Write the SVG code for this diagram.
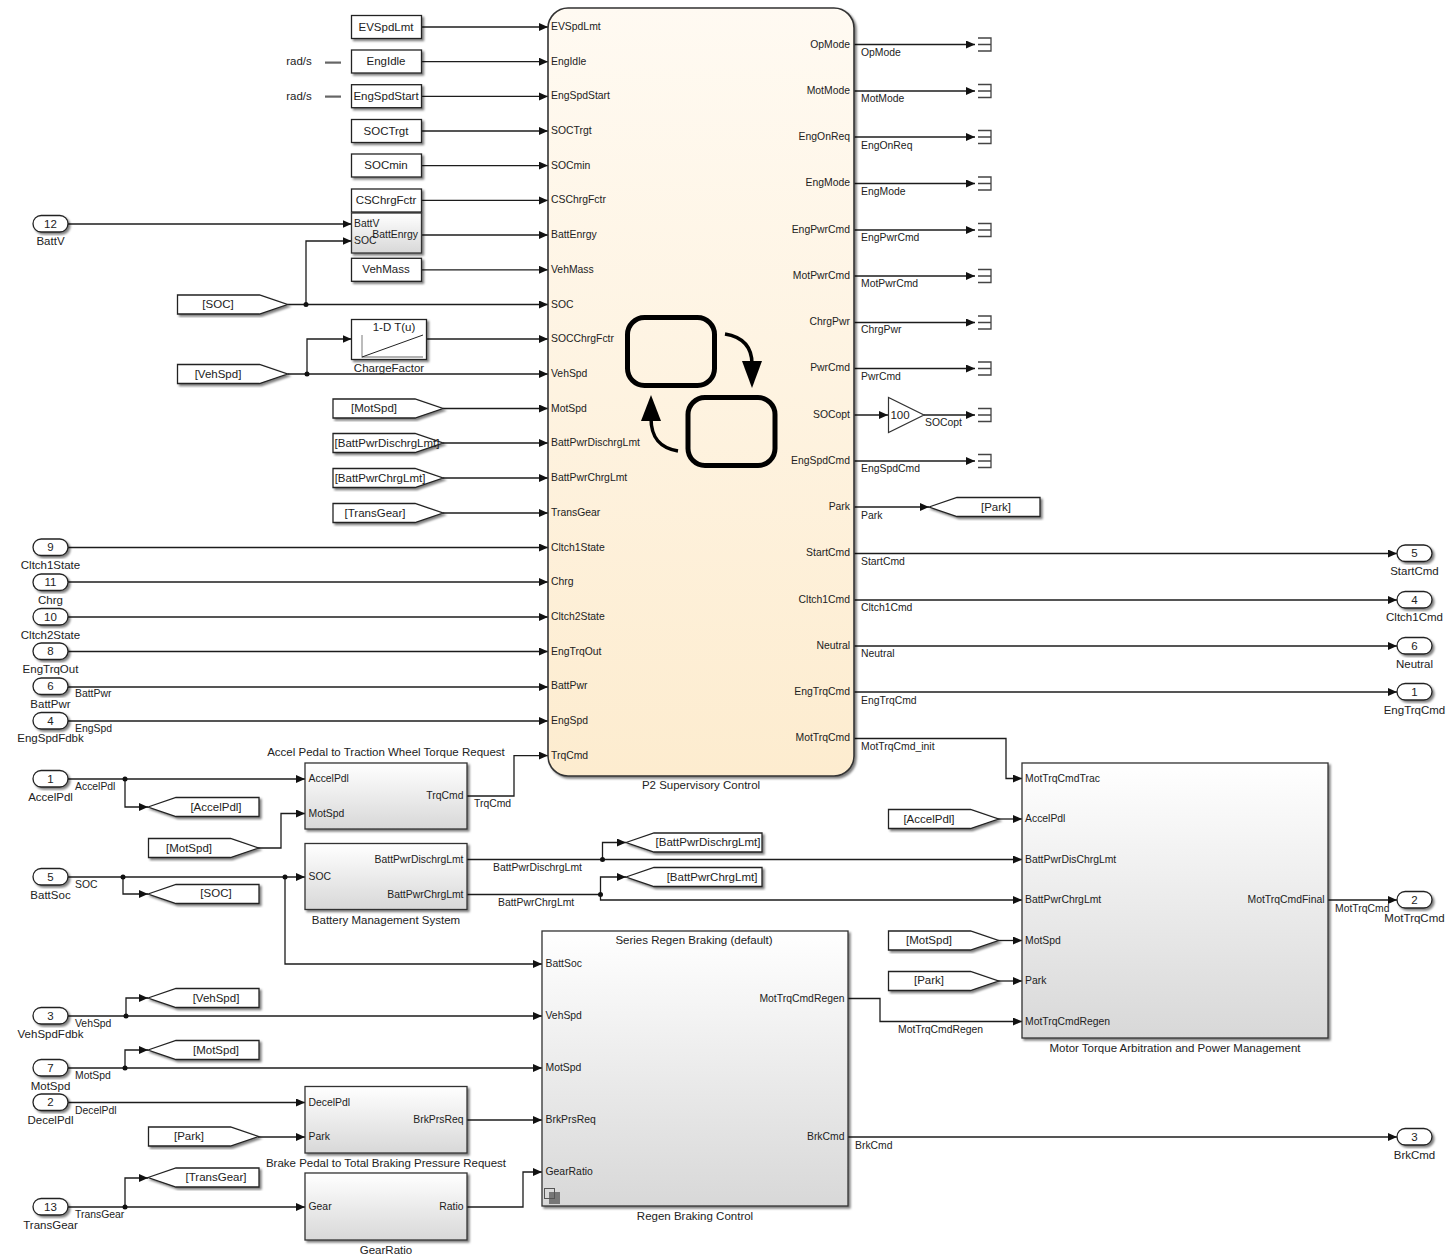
<svg xmlns="http://www.w3.org/2000/svg" width="1455" height="1254" viewBox="0 0 1455 1254">
<style>
text{font-family:"Liberation Sans",Arial,sans-serif;font-size:10.4px;fill:#222;dominant-baseline:central;transform:translateY(-0.5px)}
.n{font-size:11.5px;text-anchor:middle}
.r{text-anchor:end}
.l{fill:none;stroke:#1c1c1c;stroke-width:1.3;marker-end:url(#a)}
.p{fill:none;stroke:#1c1c1c;stroke-width:1.3}
.b{fill:#fff;stroke:#222;stroke-width:1.3;filter:url(#s)}
.g{fill:url(#g);stroke:#333;stroke-width:1.3;filter:url(#s)}
.t{fill:none;stroke:#444;stroke-width:1.3}
.d{fill:#111}
.sf{fill:none;stroke:#000;stroke-width:5}
.sa{fill:none;stroke:#000;stroke-width:3.5}
</style>
<defs>
<marker id="a" markerUnits="userSpaceOnUse" markerWidth="10" markerHeight="9" refX="9" refY="4" orient="auto"><path d="M0,0L9,4L0,8z" fill="#111"/></marker>
<linearGradient id="g" x1="0" y1="0" x2="0" y2="1"><stop offset="0" stop-color="#fff"/><stop offset="1" stop-color="#d8d8d8"/></linearGradient>
<linearGradient id="c" x1="0" y1="0" x2="0" y2="1"><stop offset="0" stop-color="#fffaf2"/><stop offset="1" stop-color="#fdeccf"/></linearGradient>
<filter id="s" x="-10%" y="-10%" width="125%" height="130%"><feDropShadow dx="2" dy="2" stdDeviation="1.2" flood-color="#000" flood-opacity="0.5"/></filter>
<path id="from" d="M0,0H82L110,9.5L82,19H0z"/>
<path id="goto" d="M0,9.5L28,0H111V19H28z"/>
<path id="gotoW" d="M0,9.5L28,0H136V19H28z"/>
<rect id="port" width="35" height="16.5" rx="8.2"/>
<path id="term" d="M3,-6.5H16V6.5H3M3,0H16"/>
</defs>

<g id="connectors">
<path class="l" d="M421.5,27H548"/>
<path class="l" d="M421.5,61.7H548"/>
<path class="l" d="M421.5,96.4H548"/>
<path class="l" d="M421.5,131H548"/>
<path class="l" d="M421.5,165.6H548"/>
<path class="l" d="M421.5,200.4H548"/>
<path class="l" d="M421.5,235H548"/>
<path class="l" d="M421.5,269.8H548"/>
<path class="l" d="M68,224H351.5"/>
<path class="l" d="M306,304.5V241H351.5"/>
<path class="l" d="M287.5,304.5H548"/>
<path class="l" d="M307,374V339H351.5"/>
<path class="l" d="M426,339H548"/>
<path class="l" d="M287.5,374H548"/>
<path class="l" d="M443,408.5H548"/>
<path class="l" d="M443,443H548"/>
<path class="l" d="M443,478H548"/>
<path class="l" d="M443,513H548"/>
<path class="l" d="M68,547.5H548"/>
<path class="l" d="M68,582H548"/>
<path class="l" d="M68,617H548"/>
<path class="l" d="M68,651.5H548"/>
<path class="l" d="M68,687H548"/>
<path class="l" d="M68,721H548"/>
<path class="l" d="M467,796H514V755.6H548"/>
<path class="l" d="M854,44.5H975"/>
<path class="l" d="M854,91H975"/>
<path class="l" d="M854,137H975"/>
<path class="l" d="M854,183.5H975"/>
<path class="l" d="M854,230H975"/>
<path class="l" d="M854,276H975"/>
<path class="l" d="M854,322.5H975"/>
<path class="l" d="M854,368.5H975"/>
<path class="l" d="M854,415H888"/>
<path class="l" d="M924,415H975"/>
<path class="l" d="M854,461H975"/>
<path class="l" d="M854,507H929"/>
<path class="l" d="M854,553.5H1397"/>
<path class="l" d="M854,600H1397"/>
<path class="l" d="M854,646H1397"/>
<path class="l" d="M854,692H1397"/>
<path class="l" d="M854,738.5H1006V778.5H1022"/>
<path class="l" d="M68,779H305"/>
<path class="l" d="M125,779V807H148"/>
<path class="l" d="M258,848H281V813.5H305"/>
<path class="l" d="M68,877H305"/>
<path class="l" d="M123,877V894H148"/>
<path class="l" d="M285,877V964H542"/>
<path class="l" d="M467,859.5H1022"/>
<path class="l" d="M602.5,859.5V842.5H626"/>
<path class="p" d="M467,894.5H600.5"/>
<path class="l" d="M600.5,894.5V877H626"/>
<path class="l" d="M600.5,894.5V900H1022"/>
<path class="l" d="M998,819H1022"/>
<path class="l" d="M998,940.5H1022"/>
<path class="l" d="M998,981H1022"/>
<path class="l" d="M1328,900H1397"/>
<path class="l" d="M848,998.5H880V1021.5H1022"/>
<path class="l" d="M848,1137H1397"/>
<path class="l" d="M68,1016H542"/>
<path class="l" d="M126,1016V998H148"/>
<path class="l" d="M68,1068H542"/>
<path class="l" d="M125,1068V1050H148"/>
<path class="l" d="M68,1102.5H305"/>
<path class="l" d="M258,1137H305"/>
<path class="l" d="M467,1120H542"/>
<path class="l" d="M68,1207H305"/>
<path class="l" d="M125,1207V1178H148"/>
<path class="l" d="M467,1207H523V1172H542"/>
<circle class="d" cx="306" cy="304.5" r="2.5"/>
<circle class="d" cx="307" cy="374" r="2.5"/>
<circle class="d" cx="125" cy="779" r="2.5"/>
<circle class="d" cx="123" cy="877" r="2.5"/>
<circle class="d" cx="285" cy="877" r="2.5"/>
<circle class="d" cx="602.5" cy="859.5" r="2.5"/>
<circle class="d" cx="600.5" cy="894.5" r="2.5"/>
<circle class="d" cx="126" cy="1016" r="2.5"/>
<circle class="d" cx="125" cy="1068" r="2.5"/>
<circle class="d" cx="125" cy="1207" r="2.5"/>
<text x="75" y="694">BattPwr</text>
<text x="75" y="729">EngSpd</text>
<text x="75" y="787">AccelPdl</text>
<text x="75" y="885">SOC</text>
<text x="75" y="1024">VehSpd</text>
<text x="75" y="1076">MotSpd</text>
<text x="75" y="1111">DecelPdl</text>
<text x="75" y="1215">TransGear</text>
<text x="474" y="804">TrqCmd</text>
<text x="493" y="868">BattPwrDischrgLmt</text>
<text x="498" y="903">BattPwrChrgLmt</text>
<text x="861" y="52.5">OpMode</text>
<text x="861" y="99">MotMode</text>
<text x="861" y="145.5">EngOnReq</text>
<text x="861" y="191.5">EngMode</text>
<text x="861" y="238">EngPwrCmd</text>
<text x="861" y="284">MotPwrCmd</text>
<text x="861" y="330">ChrgPwr</text>
<text x="861" y="376.5">PwrCmd</text>
<text x="925" y="423">SOCopt</text>
<text x="861" y="469">EngSpdCmd</text>
<text x="861" y="515.5">Park</text>
<text x="861" y="561.5">StartCmd</text>
<text x="861" y="608">Cltch1Cmd</text>
<text x="861" y="654">Neutral</text>
<text x="861" y="700.5">EngTrqCmd</text>
<text x="861" y="747">MotTrqCmd_init</text>
<text x="1335" y="909">MotTrqCmd</text>
<text x="898" y="1030">MotTrqCmdRegen</text>
<text x="855" y="1146">BrkCmd</text>
</g>

<g id="chart">
<rect x="548" y="8" width="306" height="768" rx="20" fill="url(#c)" stroke="#333" stroke-width="1.6" filter="url(#s)"/>
<rect class="sf" x="627.5" y="317.5" width="87" height="68" rx="17"/>
<rect class="sf" x="688" y="397.5" width="87" height="68" rx="17"/>
<path class="sa" d="M725,334C743,337 752,347 752,364"/>
<path d="M742,361H762L752,388z" fill="#000"/>
<path class="sa" d="M678,451C660,448 651,438 651,418"/>
<path d="M641,421H661L651,395z" fill="#000"/>
<text x="551" y="27">EVSpdLmt</text>
<text x="551" y="61.7">EngIdle</text>
<text x="551" y="96.4">EngSpdStart</text>
<text x="551" y="131">SOCTrgt</text>
<text x="551" y="165.6">SOCmin</text>
<text x="551" y="200.4">CSChrgFctr</text>
<text x="551" y="235">BattEnrgy</text>
<text x="551" y="269.8">VehMass</text>
<text x="551" y="304.5">SOC</text>
<text x="551" y="339">SOCChrgFctr</text>
<text x="551" y="374">VehSpd</text>
<text x="551" y="408.5">MotSpd</text>
<text x="551" y="443">BattPwrDischrgLmt</text>
<text x="551" y="478">BattPwrChrgLmt</text>
<text x="551" y="513">TransGear</text>
<text x="551" y="547.5">Cltch1State</text>
<text x="551" y="582">Chrg</text>
<text x="551" y="617">Cltch2State</text>
<text x="551" y="651.5">EngTrqOut</text>
<text x="551" y="686">BattPwr</text>
<text x="551" y="721">EngSpd</text>
<text x="551" y="755.6">TrqCmd</text>
<text class="r" x="850" y="44.5">OpMode</text>
<text class="r" x="850" y="90.5">MotMode</text>
<text class="r" x="850" y="137">EngOnReq</text>
<text class="r" x="850" y="183">EngMode</text>
<text class="r" x="850" y="229.5">EngPwrCmd</text>
<text class="r" x="850" y="275.5">MotPwrCmd</text>
<text class="r" x="850" y="322">ChrgPwr</text>
<text class="r" x="850" y="368">PwrCmd</text>
<text class="r" x="850" y="414.5">SOCopt</text>
<text class="r" x="850" y="460.5">EngSpdCmd</text>
<text class="r" x="850" y="507">Park</text>
<text class="r" x="850" y="553">StartCmd</text>
<text class="r" x="850" y="599.5">Cltch1Cmd</text>
<text class="r" x="850" y="645.5">Neutral</text>
<text class="r" x="850" y="692">EngTrqCmd</text>
<text class="r" x="850" y="738">MotTrqCmd</text>
<text class="n" x="701" y="785.5">P2 Supervisory Control</text>
</g>

<g id="constants">
<g id="c1"><rect class="b" x="351.5" y="15.5" width="70" height="23"/><text class="n" x="386" y="27">EVSpdLmt</text></g>
<g id="c2"><rect class="b" x="351.5" y="50" width="70" height="23"/><text class="n" x="386" y="61.7">EngIdle</text></g>
<g id="c3"><rect class="b" x="351.5" y="84.7" width="70" height="23"/><text class="n" x="386" y="96.4">EngSpdStart</text></g>
<g id="c4"><rect class="b" x="351.5" y="119.5" width="70" height="23"/><text class="n" x="386" y="131">SOCTrgt</text></g>
<g id="c5"><rect class="b" x="351.5" y="154" width="70" height="23"/><text class="n" x="386" y="165.6">SOCmin</text></g>
<g id="c6"><rect class="b" x="351.5" y="189" width="70" height="23"/><text class="n" x="386" y="200.4">CSChrgFctr</text></g>
<g id="c7"><rect class="b" x="351.5" y="258.3" width="70" height="23"/><text class="n" x="386" y="269.8">VehMass</text></g>
<text class="n" x="299" y="61">rad/s</text>
<rect x="325" y="61.5" width="16" height="2.2" fill="#666"/>
<text class="n" x="299" y="96">rad/s</text>
<rect x="325" y="95.5" width="16" height="2.2" fill="#666"/>
</g>

<g id="battEnrgy"><rect class="g" x="351.5" y="213" width="70" height="40"/><text x="354" y="224">BattV</text><text x="354" y="241">SOC</text><text class="r" x="418" y="235">BattEnrgy</text></g>

<g id="chargeFactor"><rect class="b" x="351.5" y="319.5" width="75" height="40"/>
<path d="M362,335V357H423" fill="none" stroke="#999" stroke-width="1.3"/><path d="M362,357L423,335" stroke="#222" fill="none"/>
<text class="n" x="394" y="327.5">1-D T(u)</text><text class="n" x="389" y="368.5">ChargeFactor</text></g>

<g id="froms">
<g id="f1"><use class="b" href="#from" x="177.5" y="295"/><text class="n" x="218" y="304.5">[SOC]</text></g>
<g id="f2"><use class="b" href="#from" x="177.5" y="364.5"/><text class="n" x="218" y="374">[VehSpd]</text></g>
<g id="f3"><use class="b" href="#from" x="333" y="399"/><text class="n" x="374" y="408.5">[MotSpd]</text></g>
<g id="f4"><use class="b" href="#from" x="333" y="433.5"/><text class="n" x="387" y="443">[BattPwrDischrgLmt]</text></g>
<g id="f5"><use class="b" href="#from" x="333" y="468.5"/><text class="n" x="380" y="478">[BattPwrChrgLmt]</text></g>
<g id="f6"><use class="b" href="#from" x="333" y="503.5"/><text class="n" x="375" y="513">[TransGear]</text></g>
<g id="f7"><use class="b" href="#from" x="148.5" y="838.5"/><text class="n" x="189" y="848">[MotSpd]</text></g>
<g id="f8"><use class="b" href="#from" x="148.5" y="1127"/><text class="n" x="189" y="1136.5">[Park]</text></g>
<g id="f9"><use class="b" href="#from" x="888.5" y="809.5"/><text class="n" x="929" y="819">[AccelPdl]</text></g>
<g id="f10"><use class="b" href="#from" x="888.5" y="931"/><text class="n" x="929" y="940">[MotSpd]</text></g>
<g id="f11"><use class="b" href="#from" x="888.5" y="971.5"/><text class="n" x="929" y="980.5">[Park]</text></g>
</g>

<g id="gotos">
<g id="g1"><use class="b" href="#goto" x="148" y="797.5"/><text class="n" x="216" y="807">[AccelPdl]</text></g>
<g id="g2"><use class="b" href="#goto" x="148" y="884.5"/><text class="n" x="216" y="893.5">[SOC]</text></g>
<g id="g3"><use class="b" href="#goto" x="148" y="988.5"/><text class="n" x="216" y="998">[VehSpd]</text></g>
<g id="g4"><use class="b" href="#goto" x="148" y="1040.5"/><text class="n" x="216" y="1050">[MotSpd]</text></g>
<g id="g5"><use class="b" href="#goto" x="148" y="1168"/><text class="n" x="216" y="1177.5">[TransGear]</text></g>
<g id="g6"><use class="b" href="#gotoW" x="626" y="833"/><text class="n" x="708" y="842.5">[BattPwrDischrgLmt]</text></g>
<g id="g7"><use class="b" href="#gotoW" x="626" y="867.5"/><text class="n" x="712" y="877">[BattPwrChrgLmt]</text></g>
<g id="g8"><use class="b" href="#goto" x="929" y="497.5"/><text class="n" x="996" y="507">[Park]</text></g>
</g>

<g id="inports">
<g id="i12"><use class="b" href="#port" x="33" y="215.5"/><text class="n" x="50.5" y="224">12</text><text class="n" x="50.5" y="241">BattV</text></g>
<g id="i9"><use class="b" href="#port" x="33" y="539"/><text class="n" x="50.5" y="547.5">9</text><text class="n" x="50.5" y="565.5">Cltch1State</text></g>
<g id="i11"><use class="b" href="#port" x="33" y="574"/><text class="n" x="50.5" y="582">11</text><text class="n" x="50.5" y="600">Chrg</text></g>
<g id="i10"><use class="b" href="#port" x="33" y="608.5"/><text class="n" x="50.5" y="617">10</text><text class="n" x="50.5" y="635">Cltch2State</text></g>
<g id="i8"><use class="b" href="#port" x="33" y="643"/><text class="n" x="50.5" y="651.5">8</text><text class="n" x="50.5" y="669.5">EngTrqOut</text></g>
<g id="i6"><use class="b" href="#port" x="33" y="678"/><text class="n" x="50.5" y="686.5">6</text><text class="n" x="50.5" y="704">BattPwr</text></g>
<g id="i4"><use class="b" href="#port" x="33" y="712.5"/><text class="n" x="50.5" y="721">4</text><text class="n" x="50.5" y="738.5">EngSpdFdbk</text></g>
<g id="i1"><use class="b" href="#port" x="33" y="770.5"/><text class="n" x="50.5" y="779">1</text><text class="n" x="50.5" y="797">AccelPdl</text></g>
<g id="i5"><use class="b" href="#port" x="33" y="868.5"/><text class="n" x="50.5" y="877">5</text><text class="n" x="50.5" y="895">BattSoc</text></g>
<g id="i3"><use class="b" href="#port" x="33" y="1007.5"/><text class="n" x="50.5" y="1016">3</text><text class="n" x="50.5" y="1034">VehSpdFdbk</text></g>
<g id="i7"><use class="b" href="#port" x="33" y="1059.5"/><text class="n" x="50.5" y="1068">7</text><text class="n" x="50.5" y="1086">MotSpd</text></g>
<g id="i2"><use class="b" href="#port" x="33" y="1094"/><text class="n" x="50.5" y="1102.5">2</text><text class="n" x="50.5" y="1120.5">DecelPdl</text></g>
<g id="i13"><use class="b" href="#port" x="33" y="1198.5"/><text class="n" x="50.5" y="1207">13</text><text class="n" x="50.5" y="1225">TransGear</text></g>
</g>

<g id="outports">
<g id="o5"><use class="b" href="#port" x="1397" y="545"/><text class="n" x="1414.5" y="553.5">5</text><text class="n" x="1414.5" y="571">StartCmd</text></g>
<g id="o4"><use class="b" href="#port" x="1397" y="591.5"/><text class="n" x="1414.5" y="600">4</text><text class="n" x="1414.5" y="617.5">Cltch1Cmd</text></g>
<g id="o6"><use class="b" href="#port" x="1397" y="637.5"/><text class="n" x="1414.5" y="646">6</text><text class="n" x="1414.5" y="664">Neutral</text></g>
<g id="o1"><use class="b" href="#port" x="1397" y="683.5"/><text class="n" x="1414.5" y="692">1</text><text class="n" x="1414.5" y="710">EngTrqCmd</text></g>
<g id="o2"><use class="b" href="#port" x="1397" y="891.5"/><text class="n" x="1414.5" y="900">2</text><text class="n" x="1414.5" y="918">MotTrqCmd</text></g>
<g id="o3"><use class="b" href="#port" x="1397" y="1128.5"/><text class="n" x="1414.5" y="1137">3</text><text class="n" x="1414.5" y="1155">BrkCmd</text></g>
</g>

<g id="terminators">
<use class="t" href="#term" x="975" y="44.5"/>
<use class="t" href="#term" x="975" y="91"/>
<use class="t" href="#term" x="975" y="137"/>
<use class="t" href="#term" x="975" y="183.5"/>
<use class="t" href="#term" x="975" y="230"/>
<use class="t" href="#term" x="975" y="276"/>
<use class="t" href="#term" x="975" y="322.5"/>
<use class="t" href="#term" x="975" y="368.5"/>
<use class="t" href="#term" x="975" y="415"/>
<use class="t" href="#term" x="975" y="461"/>
</g>

<g id="gain"><path d="M888.5,397.5V432.5L924,415z" fill="#fff" stroke="#333" stroke-width="1.2"/><text class="n" x="900" y="415">100</text></g>

<g id="accel"><rect class="g" x="305" y="763" width="162" height="66"/><text x="308.5" y="778.5">AccelPdl</text><text x="308.5" y="813.5">MotSpd</text><text class="r" x="463.5" y="796">TrqCmd</text><text class="n" x="386" y="752">Accel Pedal to Traction Wheel Torque Request</text></g>

<g id="bms"><rect class="g" x="305" y="843.5" width="162" height="66"/><text x="308.5" y="877">SOC</text><text class="r" x="463.5" y="859.5">BattPwrDischrgLmt</text><text class="r" x="463.5" y="894.5">BattPwrChrgLmt</text><text class="n" x="386" y="920.5">Battery Management System</text></g>

<g id="regen"><rect class="g" x="542" y="931" width="306" height="275"/><text class="n" x="694" y="940">Series Regen Braking (default)</text><text x="545.5" y="963.5">BattSoc</text><text x="545.5" y="1015.5">VehSpd</text><text x="545.5" y="1067.5">MotSpd</text><text x="545.5" y="1119.5">BrkPrsReq</text><text x="545.5" y="1171.5">GearRatio</text><text class="r" x="844.5" y="998.5">MotTrqCmdRegen</text><text class="r" x="844.5" y="1137">BrkCmd</text>
<rect x="549" y="1192" width="11" height="12" fill="#777"/><rect x="544.5" y="1188.5" width="10" height="10" fill="none" stroke="#555"/>
<text class="n" x="695" y="1216">Regen Braking Control</text></g>

<g id="brake"><rect class="g" x="305" y="1086.5" width="162" height="66.5"/><text x="308.5" y="1102.5">DecelPdl</text><text x="308.5" y="1137">Park</text><text class="r" x="463.5" y="1120">BrkPrsReq</text><text class="n" x="386" y="1163.5">Brake Pedal to Total Braking Pressure Request</text></g>

<g id="gearRatio"><rect class="g" x="305" y="1173" width="162" height="67"/><text x="308.5" y="1207">Gear</text><text class="r" x="463.5" y="1207">Ratio</text><text class="n" x="386" y="1250">GearRatio</text></g>

<g id="motor"><rect class="g" x="1022" y="763" width="306" height="275"/><text x="1025" y="778.5">MotTrqCmdTrac</text><text x="1025" y="819">AccelPdl</text><text x="1025" y="859.5">BattPwrDisChrgLmt</text><text x="1025" y="900">BattPwrChrgLmt</text><text x="1025" y="940.5">MotSpd</text><text x="1025" y="981">Park</text><text x="1025" y="1021.5">MotTrqCmdRegen</text><text class="r" x="1324.5" y="900">MotTrqCmdFinal</text><text class="n" x="1175" y="1048">Motor Torque Arbitration and Power Management</text></g>
</svg>
